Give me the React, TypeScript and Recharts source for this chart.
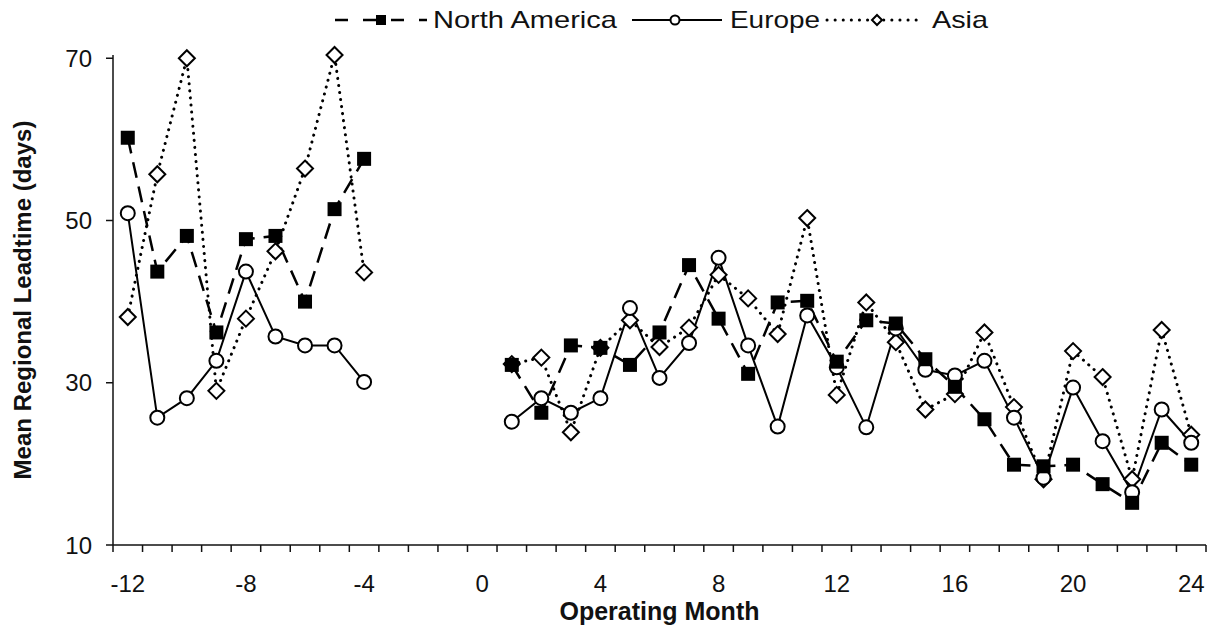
import { LineChart, Line, XAxis, YAxis } from "recharts";

const months = [
  -12, -11, -10, -9, -8, -7, -6, -5, -4, -3, -2, -1, 0, 1, 2, 3, 4, 5, 6, 7, 8, 9, 10, 11, 12,
  13, 14, 15, 16, 17, 18, 19, 20, 21, 22, 23, 24,
];

const northAmerica = [
  60.2, 43.7, 48.1, 36.2, 47.7, 48.1, 40.0, 51.4, 57.6, null, null, null, null,
  32.2, 26.3, 34.6, 34.3, 32.2, 36.2, 44.5, 37.9, 31.1, 39.9, 40.1, 32.6,
  37.7, 37.3, 32.9, 29.5, 25.5, 19.9, 19.7, 19.9, 17.5, 15.2, 22.6, 19.9,
];

const europe = [
  50.9, 25.7, 28.1, 32.7, 43.7, 35.7, 34.6, 34.6, 30.1, null, null, null, null,
  25.2, 28.1, 26.3, 28.1, 39.2, 30.6, 34.9, 45.4, 34.6, 24.6, 38.3, 31.9,
  24.5, 36.7, 31.6, 30.9, 32.7, 25.7, 18.3, 29.4, 22.8, 16.5, 26.7, 22.6,
];

const asia = [
  38.1, 55.7, 70.0, 29.0, 37.9, 46.2, 56.4, 70.4, 43.6, null, null, null, null,
  32.3, 33.1, 23.9, 34.3, 37.7, 34.4, 36.8, 43.3, 40.4, 36.0, 50.3, 28.5,
  39.9, 35.0, 26.7, 28.6, 36.2, 27.0, 18.1, 33.9, 30.7, 18.1, 36.5, 23.6,
];

const xLabelTicks = [-12, -8, -4, 0, 4, 8, 12, 16, 20, 24];
const yTicks = [10, 30, 50, 70];

const data = months.map((m, i) => ({
  month: m,
  na: northAmerica[i],
  eu: europe[i],
  as: asia[i],
}));

// tick marks sit between months (category style), labels at the month itself
const boundaryTicks = [...months.map((m) => m - 0.5), months[months.length - 1] + 0.5];
const xTicks = [...boundaryTicks, ...xLabelTicks].sort((a, b) => a - b);

const FONT = "'Liberation Sans', Arial, sans-serif";
const INK = "#111";

function XTick(props: any) {
  const { x, y, payload } = props;
  const v = payload.value;
  if (Number.isInteger(v)) {
    return (
      <text x={x} y={y + 47} textAnchor="middle" fontSize={24} fontFamily={FONT} fill={INK}>
        {v}
      </text>
    );
  }
  return <line x1={x} x2={x} y1={y} y2={y + 7} stroke={INK} strokeWidth={1.5} />;
}

function SquareDot(props: any) {
  const { cx, cy, index } = props;
  if (cx == null || cy == null) return <g key={`sq-${index}`} />;
  return <rect key={`sq-${index}`} x={cx - 7} y={cy - 7} width={14} height={14} fill="#000" />;
}

function CircleDot(props: any) {
  const { cx, cy, index } = props;
  if (cx == null || cy == null) return <g key={`ci-${index}`} />;
  return <circle key={`ci-${index}`} cx={cx} cy={cy} r={7} fill="#fff" stroke="#000" strokeWidth={2} />;
}

function DiamondDot(props: any) {
  const { cx, cy, index } = props;
  if (cx == null || cy == null) return <g key={`di-${index}`} />;
  const r = 8;
  return (
    <polygon
      key={`di-${index}`}
      points={`${cx},${cy - r} ${cx + r},${cy} ${cx},${cy + r} ${cx - r},${cy}`}
      fill="#fff"
      stroke="#000"
      strokeWidth={2}
    />
  );
}

function LegendBar() {
  const y = 20;
  return (
    <svg width={1213} height={40} style={{ position: "absolute", left: 0, top: 0 }}>
      <line x1={335} x2={427} y1={y} y2={y} stroke="#000" strokeWidth={2.5} strokeDasharray="13 15" />
      <rect x={376} y={y - 5} width={10} height={10} fill="#000" />
      <text x={433} y={28} fontSize={24} fontFamily={FONT} fill={INK} textLength={184} lengthAdjust="spacingAndGlyphs">
        North America
      </text>

      <line x1={632} x2={722} y1={y} y2={y} stroke="#000" strokeWidth={2} />
      <circle cx={675} cy={y} r={4.5} fill="#fff" stroke="#000" strokeWidth={2} />
      <text x={730} y={28} fontSize={24} fontFamily={FONT} fill={INK} textLength={90} lengthAdjust="spacingAndGlyphs">
        Europe
      </text>

      <line x1={827} x2={923} y1={y} y2={y} stroke="#000" strokeWidth={3} strokeDasharray="0.1 8" strokeLinecap="round" />
      <polygon points={`877,${y - 5} 882,${y} 877,${y + 5} 872,${y}`} fill="#fff" stroke="#000" strokeWidth={2} />
      <text x={932} y={28} fontSize={24} fontFamily={FONT} fill={INK} textLength={56} lengthAdjust="spacingAndGlyphs">
        Asia
      </text>
    </svg>
  );
}

export default function App() {
  return (
    <div style={{ position: "absolute", left: 0, top: 0, width: 1213, height: 631, background: "#fff" }}>
      <LineChart width={1213} height={631} data={data} margin={{ top: 55, right: 7, bottom: 0, left: 0 }}>
        <XAxis
          dataKey="month"
          type="number"
          domain={[-12.5, 24.5]}
          ticks={xTicks}
          interval={0}
          tick={<XTick />}
          tickLine={false}
          tickSize={0}
          tickMargin={0}
          height={86}
          stroke={INK}
          strokeWidth={1.5}
          allowDataOverflow
          label={{
            position: "insideBottom",
            content: (p: any) => {
              const vb = p.viewBox;
              return (
                <text
                  x={vb.x + vb.width / 2}
                  y={620}
                  textAnchor="middle"
                  fontSize={25}
                  fontWeight="bold"
                  fontFamily={FONT}
                  fill={INK}
                >
                  Operating Month
                </text>
              );
            },
          }}
        />
        <YAxis
          type="number"
          domain={[10, 70]}
          ticks={yTicks}
          interval={0}
          width={113}
          tickSize={7}
          tickMargin={14}
          stroke={INK}
          strokeWidth={1.5}
          tick={{ fontSize: 24, fontFamily: FONT, fill: INK }}
          label={{
            position: "insideLeft",
            content: (p: any) => {
              const vb = p.viewBox;
              const cy = vb.y + vb.height / 2;
              return (
                <text
                  x={22}
                  y={cy}
                  transform={`rotate(-90, 22, ${cy})`}
                  textAnchor="middle"
                  dominantBaseline="central"
                  fontSize={24}
                  fontWeight="bold"
                  fontFamily={FONT}
                  fill={INK}
                >
                  Mean Regional Leadtime (days)
                </text>
              );
            },
          }}
        />
        <Line
          dataKey="as"
          stroke="#000"
          strokeWidth={3}
          strokeDasharray="0.1 7"
          strokeLinecap="round"
          dot={<DiamondDot />}
          activeDot={false}
          isAnimationActive={false}
        />
        <Line
          dataKey="eu"
          stroke="#000"
          strokeWidth={2}
          dot={<CircleDot />}
          activeDot={false}
          isAnimationActive={false}
        />
        <Line
          dataKey="na"
          stroke="#000"
          strokeWidth={2.5}
          strokeDasharray="16 9"
          dot={<SquareDot />}
          activeDot={false}
          isAnimationActive={false}
        />
      </LineChart>
      <LegendBar />
    </div>
  );
}
